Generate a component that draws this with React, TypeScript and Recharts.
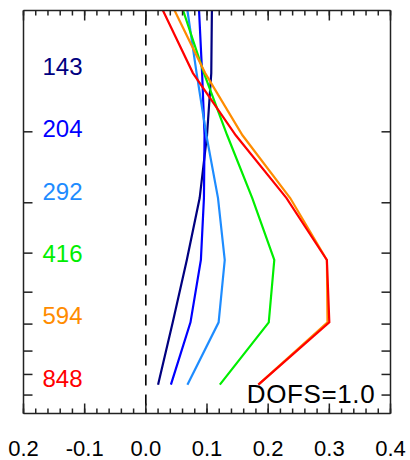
import { LineChart, Line, XAxis, YAxis, ReferenceLine, ReferenceDot } from "recharts";

const FONT = "'Liberation Sans', Arial, Helvetica, sans-serif";
const FRAME = "#222";

// pressure levels (hPa), top to bottom
const PRESSURE = [100, 143, 204, 292, 416, 594, 848];

// averaging kernel rows, one per retrieval level
const AK_143 = [0.108, 0.107, 0.1, 0.088, 0.067, 0.044, 0.02];
const AK_204 = [0.087, 0.092, 0.096, 0.095, 0.09, 0.073, 0.041];
const AK_292 = [0.068, 0.083, 0.099, 0.118, 0.129, 0.119, 0.068];
const AK_416 = [0.061, 0.095, 0.133, 0.174, 0.21, 0.201, 0.121];
const AK_594 = [0.047, 0.097, 0.158, 0.236, 0.296, 0.297, 0.184];
const AK_848 = [0.028, 0.077, 0.147, 0.23, 0.296, 0.3, 0.184];

const LEVELS = [143, 204, 292, 416, 594, 848];
const COLORS = ["#000080", "#0000ff", "#1e8cff", "#00ee00", "#ff8c00", "#ff0000"];

const X_MAJOR = [-0.2, -0.1, 0, 0.1, 0.2, 0.3, 0.4];
const X_LABELS = ["0.2", "-0.1", "0.0", "0.1", "0.2", "0.3", "0.4"];
const X_MINOR = [
  -0.2, -0.18, -0.16, -0.14, -0.12, -0.1, -0.08, -0.06, -0.04, -0.02, 0, 0.02, 0.04, 0.06, 0.08, 0.1,
  0.12, 0.14, 0.16, 0.18, 0.2, 0.22, 0.24, 0.26, 0.28, 0.3, 0.32, 0.34, 0.36, 0.38, 0.4,
];
const Y_MAJOR = [200, 300, 400, 500, 600, 700, 800, 900];

const LABEL_X = -0.169;
const DOFS = "DOFS=1.0";

const data = PRESSURE.map((p, i) => ({
  p,
  k143: AK_143[i],
  k204: AK_204[i],
  k292: AK_292[i],
  k416: AK_416[i],
  k594: AK_594[i],
  k848: AK_848[i],
}));

const KEYS = ["k143", "k204", "k292", "k416", "k594", "k848"];

const NoLabel = () => <g />;

export default function App() {
  const xDom: [number, number] = [-0.2, 0.4];
  const yDom: [number, number] = [100, 1000];
  const frameLine = { stroke: FRAME, strokeWidth: 1.5 };
  const thin = 0.01; // mirror axes must not take up room
  const tickOnly = { tick: <NoLabel />, axisLine: false, tickLine: frameLine, interval: 0 as const, mirror: true };

  return (
    <div style={{ position: "absolute", left: 0, top: 0, width: 410, height: 460, background: "#fff" }}>
      <LineChart
        width={410}
        height={460}
        layout="vertical"
        data={data}
        margin={{ top: 10.5, right: 19.5, bottom: 0, left: 23.5 }}
      >
        {/* labelled bottom axis */}
        <XAxis
          xAxisId="x"
          type="number"
          domain={xDom}
          allowDataOverflow
          ticks={X_MAJOR}
          interval={0}
          height={46.5}
          tickLine={false}
          tickSize={0}
          tickMargin={27}
          axisLine={frameLine}
          tickFormatter={(v, i) => X_LABELS[i]}
          tick={{ fontSize: 22, fill: "#000", fontFamily: FONT }}
        />
        {/* inward tick marks, bottom and top */}
        <XAxis xAxisId="bMaj" type="number" domain={xDom} allowDataOverflow ticks={X_MAJOR} height={thin} tickSize={10} {...tickOnly} />
        <XAxis xAxisId="bMin" type="number" domain={xDom} allowDataOverflow ticks={X_MINOR} height={thin} tickSize={5} {...tickOnly} />
        <XAxis xAxisId="tMaj" orientation="top" type="number" domain={xDom} allowDataOverflow ticks={X_MAJOR} height={thin}
          tickSize={10} {...tickOnly} axisLine={frameLine} />
        <XAxis xAxisId="tMin" orientation="top" type="number" domain={xDom} allowDataOverflow ticks={X_MINOR} height={thin}
          tickSize={5} {...tickOnly} />

        <YAxis yAxisId="y" type="number" dataKey="p" scale="log" domain={yDom} allowDataOverflow hide />
        <YAxis yAxisId="yl" type="number" dataKey="p" scale="log" domain={yDom} allowDataOverflow
          ticks={Y_MAJOR} width={thin} tickSize={9} {...tickOnly} axisLine={frameLine} />
        <YAxis yAxisId="yr" orientation="right" type="number" dataKey="p" scale="log" domain={yDom} allowDataOverflow
          ticks={Y_MAJOR} width={thin} tickSize={9} {...tickOnly} axisLine={frameLine} />

        <ReferenceLine xAxisId="x" yAxisId="y" x={0} stroke="#000" strokeWidth={1.6} strokeDasharray="11 9" strokeDashoffset={12} />

        {KEYS.map((k, i) => (
          <Line
            key={k}
            xAxisId="x"
            yAxisId="y"
            dataKey={k}
            stroke={COLORS[i]}
            strokeWidth={2.2}
            dot={false}
            isAnimationActive={false}
          />
        ))}

        {LEVELS.map((lv, i) => (
          <ReferenceDot
            key={lv}
            xAxisId="x"
            yAxisId="y"
            x={LABEL_X}
            y={lv}
            r={1}
            shape={(props: any) => (
              <text x={props.cx} y={props.cy + 2} fill={COLORS[i]} fontSize={24} fontFamily={FONT}>
                {lv}
              </text>
            )}
          />
        ))}

        <ReferenceDot
          xAxisId="x"
          yAxisId="y"
          x={0.375}
          y={940}
          r={1}
          shape={(props: any) => (
            <text x={props.cx} y={props.cy} textAnchor="end" fill="#000" fontSize={26} letterSpacing={0.6} fontFamily={FONT}>
              {DOFS}
            </text>
          )}
        />
      </LineChart>
    </div>
  );
}
